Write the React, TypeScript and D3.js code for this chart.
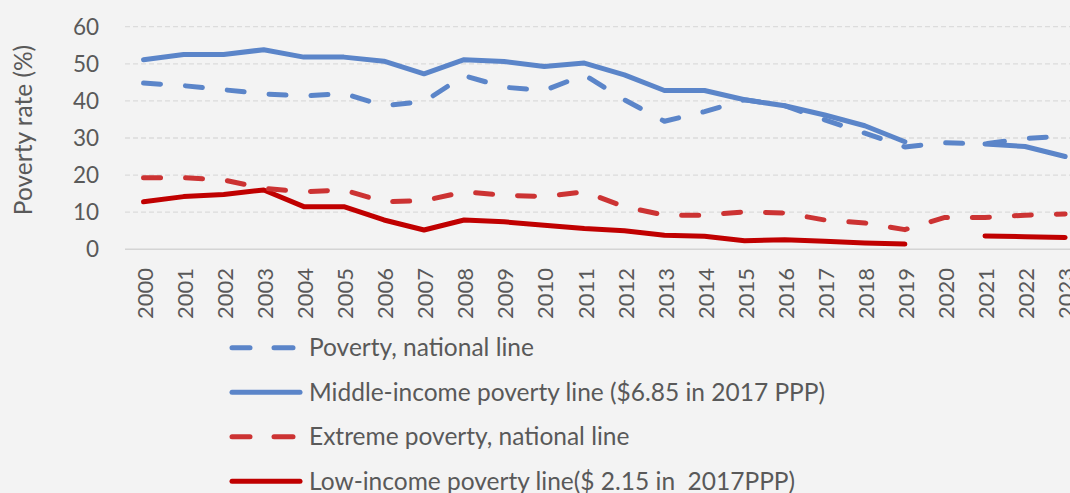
import React from "react";
import * as d3 from "d3";

const years = ["2000","2001","2002","2003","2004","2005","2006","2007","2008","2009","2010","2011","2012","2013","2014","2015","2016","2017","2018","2019","2020","2021","2022","2023"];
const povertyNational = [44.8,44.1,43.0,41.9,41.3,42.0,38.7,39.8,46.8,43.7,42.8,47.0,40.3,34.5,37.1,40.3,38.7,34.9,31.3,27.6,28.7,28.4,29.9,30.5];
const middleIncome = [51.1,52.5,52.5,53.8,51.8,51.8,50.7,47.3,51.1,50.6,49.3,50.2,47.0,42.8,42.8,40.3,38.7,36.2,33.3,29.0,null,28.4,27.7,25.0];
const extremeNational = [19.3,19.3,18.7,16.4,15.5,16.0,12.8,13.1,15.5,14.6,14.2,15.5,11.5,9.2,9.2,10.1,9.8,7.9,7.1,5.3,8.6,8.6,9.2,9.5];
const lowIncome = [12.8,14.2,14.8,16.0,11.5,11.5,7.9,5.2,7.9,7.4,6.5,5.6,5.0,3.8,3.5,2.3,2.6,2.2,1.7,1.4,null,3.6,3.4,3.2];
const yTicks = [0,10,20,30,40,50,60];
const legendLabels = [
  "Poverty, national line",
  "Middle-income poverty line ($6.85 in 2017 PPP)",
  "Extreme poverty, national line",
  "Low-income poverty line($ 2.15 in  2017PPP)",
];

const W = 1070, H = 493;
const FONT = "Lato, 'Open Sans', sans-serif";
const TXT = "#595959";

type S = { name: string; values: (number | null)[]; color: string; dashed: boolean };
const series: S[] = [
  { name: legendLabels[0], values: povertyNational, color: "#5B85C9", dashed: true },
  { name: legendLabels[1], values: middleIncome, color: "#5B85C9", dashed: false },
  { name: legendLabels[2], values: extremeNational, color: "#CC3333", dashed: true },
  { name: legendLabels[3], values: lowIncome, color: "#C00000", dashed: false },
];

export default function App() {
  const x = d3.scaleBand<string>().domain(years).range([123.5, 123.5 + 40.07 * years.length]);
  const y = d3.scaleLinear().domain([0, 60]).range([249.3, 26.7]);
  const cx = (yr: string) => (x(yr) as number) + x.bandwidth() / 2;
  const line = d3
    .line<number | null>()
    .defined((d) => d !== null)
    .x((_, i) => cx(years[i]))
    .y((d) => y(d as number));
  const plotRight = 123.5 + 40.07 * years.length;
  const drawOrder = [1, 0, 3, 2];
  return (
    <svg width={W} height={H} style={{ position: "absolute", left: 0, top: 0, background: "#F3F3F3" }} fontFamily={FONT}>
      <rect x={0} y={0} width={W} height={H} fill="#F3F3F3" />
      {yTicks.map((t) =>
        t === 0 ? null : (
          <line key={"g" + t} x1={125} x2={plotRight} y1={y(t)} y2={y(t)} stroke="#DCDCDC" strokeWidth={1.3} strokeDasharray="5,3" />
        )
      )}
      <line x1={125} x2={plotRight} y1={y(0)} y2={y(0)} stroke="#D4D4D4" strokeWidth={1.5} />
      {yTicks.map((t) => (
        <text key={"yt" + t} x={99} y={y(t)} dy="0.35em" textAnchor="end" fontSize={22.5} fill={TXT}>
          {t}
        </text>
      ))}
      <text transform={`translate(32,130) rotate(-90)`} textAnchor="middle" fontSize={24.5} fill={TXT}>
        Poverty rate (%)
      </text>
      {years.map((yr) => (
        <text key={"xt" + yr} transform={`translate(${cx(yr) + 1.5},268) rotate(-90)`} dy="0.35em" textAnchor="end" fontSize={22} fill={TXT}>
          {yr}
        </text>
      ))}
      {drawOrder.map((i) => {
        const s = series[i];
        return (
          <path
            key={"s" + i}
            d={line(s.values) || ""}
            fill="none"
            stroke={s.color}
            strokeWidth={5}
            strokeLinecap="round"
            strokeLinejoin="round"
            strokeDasharray={s.dashed ? "17,25" : undefined}
          />
        );
      })}
      {series.map((s, i) => {
        const ly = 347.7 + i * 44.5;
        return (
          <g key={"l" + i}>
            {s.dashed ? (
              <>
                <line x1={232} x2={250} y1={ly} y2={ly} stroke={s.color} strokeWidth={5} strokeLinecap="round" />
                <line x1={274} x2={293} y1={ly} y2={ly} stroke={s.color} strokeWidth={5} strokeLinecap="round" />
              </>
            ) : (
              <line x1={232} x2={300} y1={ly} y2={ly} stroke={s.color} strokeWidth={5} strokeLinecap="round" />
            )}
            <text x={309} y={ly} dy="0.35em" fontSize={24.5} fill={TXT} style={{ whiteSpace: "pre" }}>
              {s.name}
            </text>
          </g>
        );
      })}
    </svg>
  );
}
